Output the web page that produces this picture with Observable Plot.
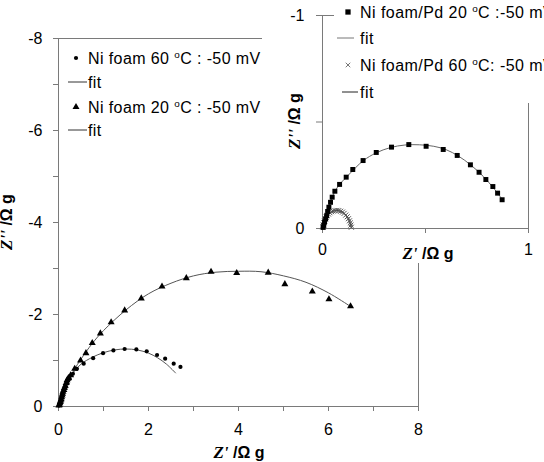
<!DOCTYPE html>
<html>
<head>
<meta charset="utf-8">
<script src="https://cdn.jsdelivr.net/npm/d3@7"></script>
<script src="https://cdn.jsdelivr.net/npm/@observablehq/plot@0.6"></script>
<style>
html,body{margin:0;padding:0;background:#fff;}
#wrap{position:relative;width:544px;height:462px;overflow:hidden;background:#fff;}
#wrap svg{position:absolute;top:0;overflow:visible;}
</style>
</head>
<body>
<div id="wrap"></div>
<script>
// ---------------- Main chart data: Z' (Ω g) vs Z'' (Ω g) ----------------
// Ni foam 60 °C : -50 mV (circles)
const ni60X = [0.01,0.02,0.03,0.05,0.07,0.09,0.12,0.16,0.20,0.25,0.32,0.41,0.56,0.77,0.99,1.22,1.47,1.73,1.96,2.19,2.37,2.56,2.71];
const ni60Y = [-0.02,-0.05,-0.08,-0.13,-0.19,-0.26,-0.34,-0.42,-0.50,-0.60,-0.71,-0.82,-0.93,-1.05,-1.16,-1.22,-1.25,-1.24,-1.20,-1.12,-1.04,-0.93,-0.86];
const ni60FitX = [0,0.05,0.1,0.2,0.35,0.5,0.75,1.0,1.25,1.5,1.75,2.0,2.2,2.4,2.6];
const ni60FitY = [0,-0.16,-0.30,-0.52,-0.76,-0.92,-1.07,-1.17,-1.23,-1.25,-1.23,-1.16,-1.06,-0.92,-0.73];
// Ni foam 20 °C : -50 mV (triangles)
const ni20X = [0.01,0.02,0.03,0.04,0.05,0.06,0.07,0.08,0.09,0.10,0.12,0.13,0.15,0.17,0.19,0.22,0.27,0.36,0.49,0.61,0.75,0.93,1.17,1.47,1.84,2.30,2.84,3.39,3.96,4.66,5.03,5.64,6.01,6.49];
const ni20Y = [-0.02,-0.04,-0.07,-0.10,-0.13,-0.16,-0.20,-0.24,-0.28,-0.32,-0.36,-0.40,-0.45,-0.51,-0.57,-0.62,-0.68,-0.82,-1.00,-1.16,-1.38,-1.59,-1.83,-2.09,-2.35,-2.61,-2.79,-2.93,-2.90,-2.91,-2.66,-2.50,-2.33,-2.18];
const ni20FitX = [0,0.05,0.1,0.2,0.35,0.5,0.75,1.0,1.5,2.0,2.5,3.0,3.5,4.0,4.5,5.0,5.5,6.0,6.45];
const ni20FitY = [0,-0.14,-0.28,-0.50,-0.80,-1.03,-1.37,-1.65,-2.10,-2.45,-2.68,-2.84,-2.92,-2.94,-2.93,-2.84,-2.70,-2.47,-2.20];

// ---------------- Inset data ----------------
// Ni foam/Pd 20 °C : -50 mV (squares)
const pd20X = [0.003,0.006,0.010,0.015,0.020,0.025,0.031,0.039,0.047,0.060,0.083,0.115,0.147,0.197,0.261,0.335,0.419,0.503,0.586,0.654,0.718,0.760,0.793,0.827,0.850,0.872];
const pd20Y = [-0.005,-0.015,-0.030,-0.045,-0.060,-0.080,-0.100,-0.123,-0.147,-0.175,-0.207,-0.241,-0.277,-0.319,-0.357,-0.382,-0.394,-0.386,-0.371,-0.343,-0.299,-0.264,-0.230,-0.197,-0.166,-0.135];
const pd20FitX = [0,0.02,0.04,0.06,0.09,0.12,0.16,0.20,0.26,0.33,0.40,0.47,0.54,0.60,0.66,0.72,0.78,0.83,0.87];
const pd20FitY = [0,-0.065,-0.13,-0.175,-0.215,-0.245,-0.285,-0.32,-0.355,-0.38,-0.392,-0.393,-0.386,-0.37,-0.34,-0.298,-0.245,-0.19,-0.14];
// Ni foam/Pd 60 °C: -50 mV (crosses)
const pd60X = [0.002,0.004,0.007,0.010,0.014,0.018,0.023,0.029,0.036,0.044,0.052,0.061,0.070,0.079,0.088,0.097,0.105,0.113,0.120,0.126,0.131,0.135,0.138,0.140];
const pd60Y = [-0.008,-0.017,-0.027,-0.036,-0.045,-0.053,-0.061,-0.068,-0.074,-0.079,-0.082,-0.084,-0.085,-0.084,-0.081,-0.077,-0.071,-0.063,-0.055,-0.046,-0.036,-0.026,-0.016,-0.006];
const pd60FitX = [0,0.01,0.025,0.045,0.07,0.095,0.115,0.13,0.14];
const pd60FitY = [0,-0.036,-0.062,-0.079,-0.085,-0.078,-0.062,-0.036,-0.005];

// ---------------- Ticks & labels ----------------
const mainXTicks = [0,2,4,6,8];
const mainXMinor = [1,3,5,7];
const mainYTicks = [-8,-6,-4,-2,0];
const mainYMinor = [-7,-5,-3,-1];
const insetXTicks = [0,1];
const insetXMinor = [0.5];
const insetYTicks = [-1,0];
const insetYMinor = [-0.5];
const xTitleMain = ["Z'", " /Ω g"];
const yTitleMain = ["Z''", " /Ω g"];
const mainLegendLabels = ["Ni foam 60 °C : -50 mV","fit","Ni foam 20 °C : -50 mV","fit"];
const mainLegendKinds = ["circle","line","triangle","line"];
const insetLegendLabels = ["Ni foam/Pd 20 °C :-50 mV","fit","Ni foam/Pd 60 °C: -50 mV","fit"];
const insetLegendKinds = ["square","line","times","line"];

// ---------------- Drawing ----------------
const FONT = "Arial, 'Liberation Sans', sans-serif";
const AX = "#7a7a7a";
const zip = (xs, ys) => xs.map((x, i) => ({x, y: ys[i]}));
const fmt = d => String(d);

const main = Plot.plot({
  width: 544, height: 462,
  marginLeft: 58, marginRight: 126, marginTop: 38, marginBottom: 56,
  style: {fontFamily: FONT, fontSize: "16px", color: "#000", background: "transparent", overflow: "visible"},
  x: {domain: [0, 8], label: null},
  y: {domain: [0, -8], label: null},
  marks: [
    Plot.frame({stroke: AX}),
    Plot.axisX(mainXMinor, {tickSize: 5, stroke: AX, tickFormat: () => "", label: null}),
    Plot.axisX(mainXTicks, {tickSize: 5, tickPadding: 12, stroke: AX, fill: "#000", tickFormat: fmt, label: null, fontSize: 16}),
    Plot.axisY(mainYMinor, {tickSize: 5, stroke: AX, tickFormat: () => "", label: null}),
    Plot.axisY(mainYTicks, {tickSize: 5, tickPadding: 11, stroke: AX, fill: "#000", tickFormat: fmt, label: null, fontSize: 16}),
    Plot.line(zip(ni20FitX, ni20FitY), {x: "x", y: "y", stroke: "#555", strokeWidth: 1, curve: "catmull-rom"}),
    Plot.line(zip(ni60FitX, ni60FitY), {x: "x", y: "y", stroke: "#555", strokeWidth: 1, curve: "catmull-rom"}),
    Plot.dot(zip(ni20X, ni20Y), {x: "x", y: "y", symbol: "triangle", r: 2.6, fill: "#000", stroke: "none"}),
    Plot.dot(zip(ni60X, ni60Y), {x: "x", y: "y", symbol: "circle", r: 2.1, fill: "#000", stroke: "none"})
  ]
});

const inset = Plot.plot({
  width: 282, height: 263,
  marginLeft: 60, marginRight: 16, marginTop: 15, marginBottom: 35,
  style: {fontFamily: FONT, fontSize: "16px", color: "#000", background: "#fff", overflow: "visible"},
  x: {domain: [0, 1], label: null},
  y: {domain: [0, -1], label: null},
  marks: [
    Plot.frame({stroke: AX}),
    Plot.axisX(insetXMinor, {tickSize: 5, stroke: AX, tickFormat: () => "", label: null}),
    Plot.axisX(insetXTicks, {tickSize: 5, tickPadding: 10, stroke: AX, fill: "#000", tickFormat: fmt, label: null, fontSize: 16}),
    Plot.axisY(insetYMinor, {tickSize: 6, stroke: AX, tickFormat: () => "", label: null}),
    Plot.axisY(insetYTicks, {tickSize: 6, tickPadding: 12, stroke: AX, fill: "#000", tickFormat: fmt, label: null, fontSize: 16}),
    Plot.line(zip(pd20FitX, pd20FitY), {x: "x", y: "y", stroke: "#666", strokeWidth: 1, curve: "catmull-rom"}),
    Plot.line(zip(pd60FitX, pd60FitY), {x: "x", y: "y", stroke: "#222", strokeWidth: 1, curve: "catmull-rom"}),
    Plot.dot(zip(pd60X, pd60Y), {x: "x", y: "y", symbol: "times", r: 2.4, stroke: "#555", strokeWidth: 1}),
    Plot.dot(zip(pd20X, pd20Y), {x: "x", y: "y", symbol: "square", r: 2.8, fill: "#000", stroke: "none"})
  ]
});
inset.style.left = "262px";

const wrap = document.getElementById("wrap");
main.style.left = "0px";
wrap.appendChild(main);
wrap.appendChild(inset);

// ---- helpers ----
function addLabel(sel, label) {
  const parts = label.split("°");
  sel.append("tspan").text(parts[0]);
  if (parts.length > 1) {
    sel.append("tspan").attr("font-size", "0.62em").attr("dy", "-0.55em").text("o");
    sel.append("tspan").attr("dy", "0.34em").text(parts[1]);
  }
}
function addTitle(svg, parts, x, y, rotate) {
  const t = d3.select(svg).append("text")
    .attr("transform", `translate(${x},${y})` + (rotate ? " rotate(-90)" : ""))
    .attr("text-anchor", "middle").attr("font-weight", "bold").attr("font-size", 16).attr("fill", "#000");
  t.append("tspan").attr("font-family", "'Liberation Serif', 'Times New Roman', serif").attr("font-style", "italic").attr("font-size", 17).text(parts[0]);
  t.append("tspan").attr("font-family", FONT).text(parts[1]);
}
function symbolPath(kind) {
  const m = {circle: [d3.symbolCircle, Math.PI * 2.1 * 2.1], triangle: [d3.symbolTriangle, Math.PI * 2.6 * 2.6],
             square: [d3.symbolSquare, 28], times: [d3.symbolTimes, Math.PI * 2.2 * 2.2]};
  return d3.symbol(m[kind][0], m[kind][1])();
}
function drawLegend(svg, labels, kinds, L) {
  const g = d3.select(svg).append("g").attr("font-family", FONT).attr("font-size", L.fontSize)
    .attr("letter-spacing", L.spacing).attr("text-anchor", "start");
  if (L.bg) g.append("rect").attr("x", L.bg[0]).attr("y", L.bg[1]).attr("width", L.bg[2]).attr("height", L.bg[3]).attr("fill", "#fff");
  labels.forEach((lab, i) => {
    const y = L.rows[i];
    const k = kinds[i];
    if (k === "line") {
      g.append("line").attr("x1", L.lines[i][0]).attr("x2", L.lines[i][1]).attr("y1", y).attr("y2", y)
        .attr("stroke", L.lineColors[i]).attr("stroke-width", 1);
    } else {
      const p = g.append("path").attr("d", symbolPath(k)).attr("transform", `translate(${L.markX},${y})`);
      if (k === "times") p.attr("fill", "none").attr("stroke", "#777"); else p.attr("fill", "#000");
    }
    const t = g.append("text").attr("x", L.textX).attr("y", y).attr("dy", "0.36em").attr("fill", "#000").attr("text-anchor", "start");
    addLabel(t, lab);
  });
}

drawLegend(main, mainLegendLabels, mainLegendKinds, {
  fontSize: 16, spacing: 0.4, rows: [58, 82, 107, 130], markX: 76, textX: 88,
  lines: [null, [68, 87], null, [68, 87]], lineColors: [null, "#333", null, "#333"]
});
drawLegend(inset, insetLegendLabels, insetLegendKinds, {
  fontSize: 16, spacing: 0.45, rows: [12, 38, 65, 92], markX: 86, textX: 98,
  lines: [null, [75, 92], null, [80, 96]], lineColors: [null, "#777", null, "#222"],
  bg: [72, 0, 210, 103]
});

addTitle(main, xTitleMain, 239, 458, false);
addTitle(main, yTitleMain, 12, 222, true);
addTitle(inset, xTitleMain, 166, 259, false);
addTitle(inset, yTitleMain, 38, 121, true);
</script>
</body>
</html>
